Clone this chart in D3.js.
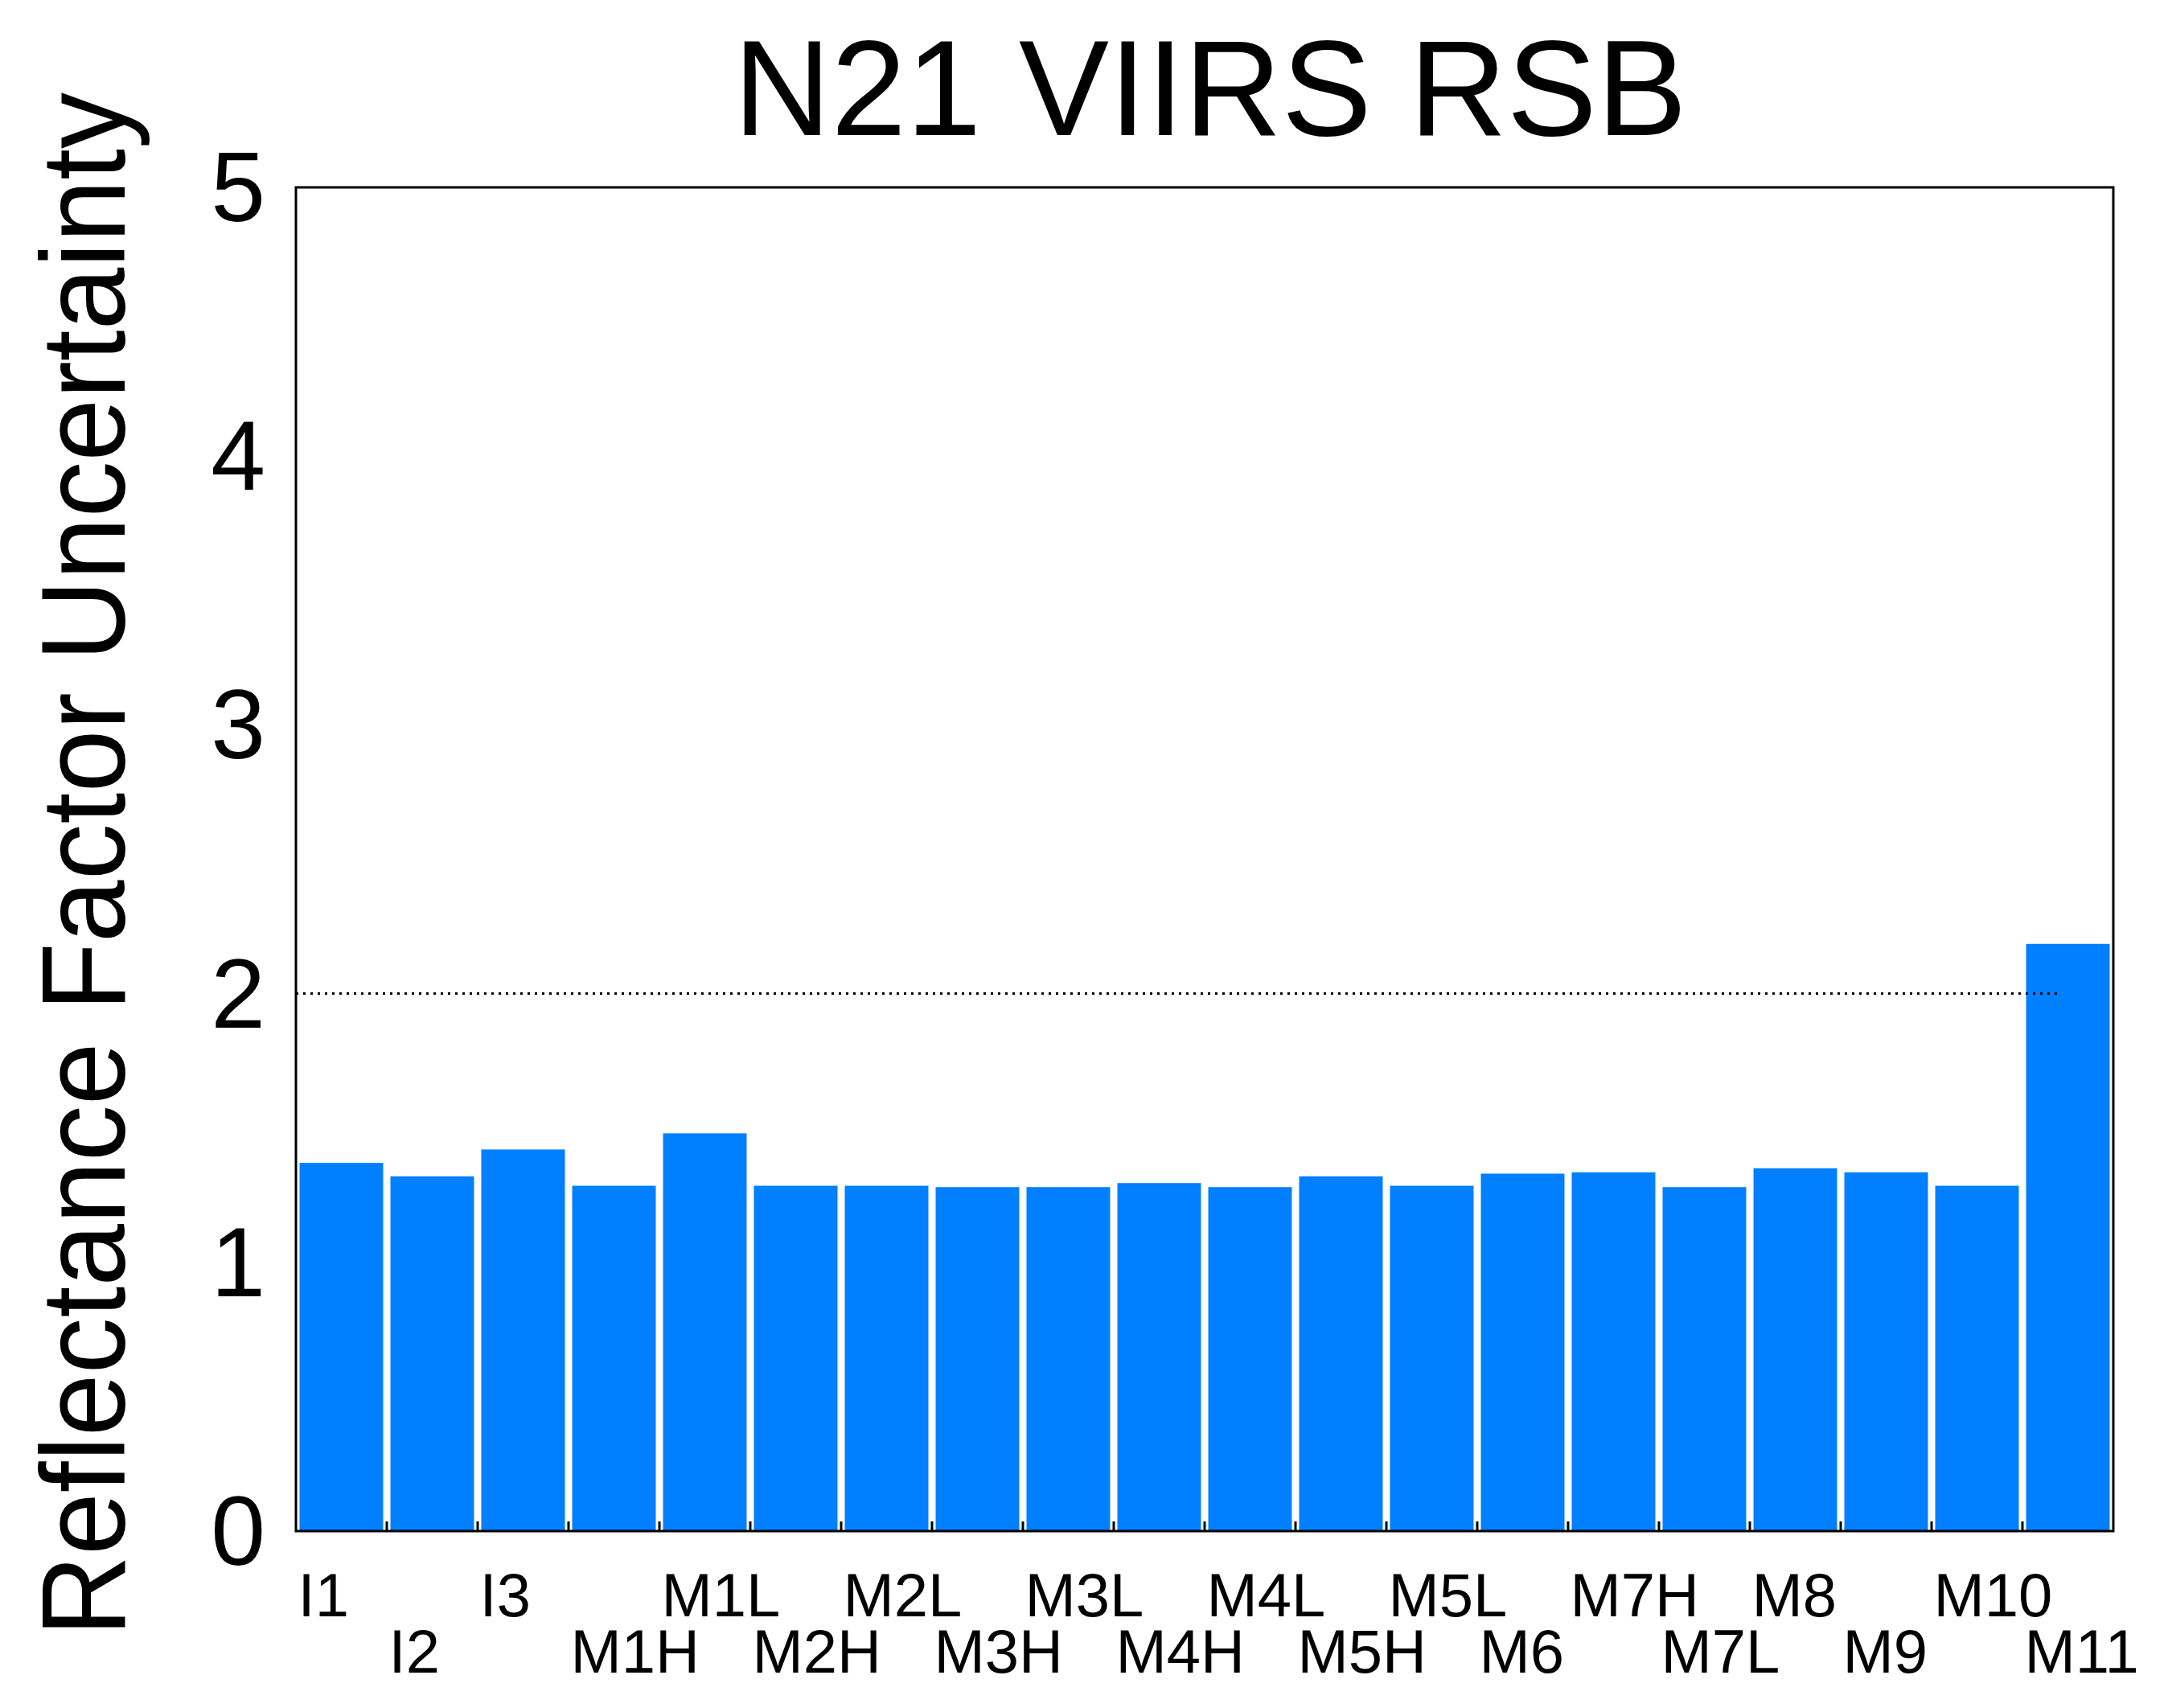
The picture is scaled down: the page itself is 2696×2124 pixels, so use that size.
<!DOCTYPE html>
<html><head><meta charset="utf-8">
<script src="https://cdn.jsdelivr.net/npm/d3@7"></script>
<style>body{margin:0;background:#fff}</style>
</head><body>
<script>
var bands = ["I1","I2","I3","M1H","M1L","M2H","M2L","M3H","M3L","M4H","M4L","M5H","M5L","M6","M7H","M7L","M8","M9","M10","M11"];
var uncert = [1.37,1.32,1.42,1.285,1.48,1.285,1.285,1.28,1.28,1.295,1.28,1.32,1.285,1.33,1.335,1.28,1.35,1.335,1.285,2.185];
var yTicks = [0,1,2,3,4,5];
var specLine = 2;

var W = 2696, H = 2124;
var m = {left:368, right:68, top:233, bottom:220};
var svg = d3.select("body").append("svg").attr("width", W).attr("height", H);

var x = d3.scaleBand().domain(bands).range([m.left, W - m.right]).paddingInner(0.08).paddingOuter(0.04);
var y = d3.scaleLinear().domain([0,5]).range([H - m.bottom, m.top]);

// bars
svg.selectAll("rect.bar").data(bands).join("rect")
  .attr("class","bar")
  .attr("x", function(d){ return x(d); })
  .attr("width", x.bandwidth())
  .attr("y", function(d,i){ return y(uncert[i]); })
  .attr("height", function(d,i){ return y(0) - y(uncert[i]); })
  .attr("fill", "#007fff");

// dotted requirement line
svg.append("line")
  .attr("x1", m.left).attr("x2", W - m.right - 65)
  .attr("y1", y(specLine)).attr("y2", y(specLine))
  .attr("stroke","#000").attr("stroke-width",3).attr("stroke-dasharray","3,6");

// frame
svg.append("rect").attr("x", m.left).attr("y", m.top)
  .attr("width", W - m.left - m.right).attr("height", H - m.top - m.bottom)
  .attr("fill","none").attr("stroke","#000").attr("stroke-width",3);

// y ticks
svg.selectAll("text.yt").data(yTicks).join("text")
  .attr("class","yt")
  .attr("x", 330).attr("y", function(d){ return y(d) + 42; })
  .attr("text-anchor","end")
  .attr("font-family","Liberation Sans, Arial, sans-serif")
  .attr("font-size",122)
  .text(function(d){ return d; });

// x ticks between bars
var step = x.step();
svg.selectAll("line.xt").data(bands.slice(1)).join("line")
  .attr("class","xt")
  .attr("x1", function(d){ return x(d) - step*0.04; })
  .attr("x2", function(d){ return x(d) - step*0.04; })
  .attr("y1", y(0)).attr("y2", y(0) - 12)
  .attr("stroke","#000").attr("stroke-width",3);

// x labels, staggered
svg.selectAll("text.xl").data(bands).join("text")
  .attr("class","xl")
  .attr("x", function(d){ return x(d) - 2; })
  .attr("y", function(d,i){ return i % 2 === 0 ? 2010 : 2080; })
  .attr("font-family","Liberation Sans Narrow, Liberation Sans, Arial, sans-serif")
  .attr("font-size",76)
  .text(function(d){ return d; });

// title
svg.append("text")
  .attr("x", 1505).attr("y", 168)
  .attr("text-anchor","middle")
  .attr("font-family","Liberation Sans, Arial, sans-serif")
  .attr("font-size",168)
  .text("N21 VIIRS RSB");

// y label
svg.append("text")
  .attr("transform","translate(155,1075) rotate(-90)")
  .attr("text-anchor","middle")
  .attr("font-family","Liberation Sans, Arial, sans-serif")
  .attr("font-size",148)
  .attr("textLength",1920).attr("lengthAdjust","spacingAndGlyphs")
  .text("Reflectance Factor Uncertainty");
</script>
</body></html>
